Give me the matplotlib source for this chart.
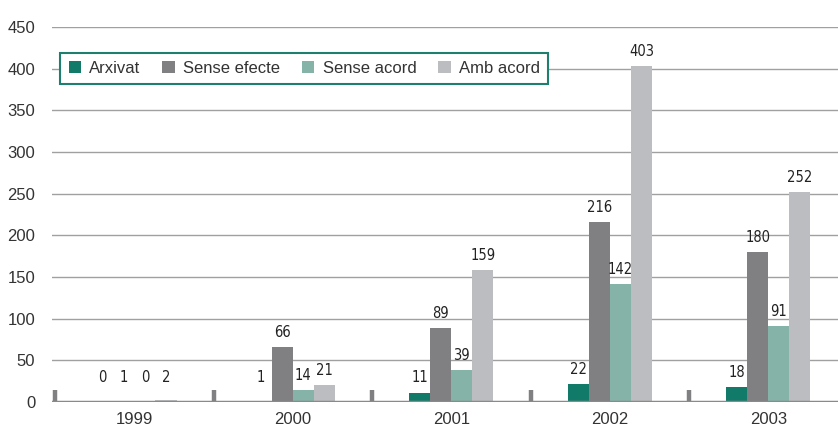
import matplotlib
matplotlib.use("Agg")
import matplotlib.pyplot as plt
from matplotlib import font_manager
import numpy as np

years = ["1999", "2000", "2001", "2002", "2003"]
seriesNames = ["Arxivat", "Sense efecte", "Sense acord", "Amb acord"]
arxivat = [0, 1, 11, 22, 18]
senseEfecte = [1, 66, 89, 216, 180]
senseAcord = [0, 14, 39, 142, 91]
ambAcord = [2, 21, 159, 403, 252]
yTicks = [0, 50, 100, 150, 200, 250, 300, 350, 400, 450]

colours = ["#127a68", "#808083", "#86b3a8", "#bcbdc0"]

# condensed face for the value labels
labelProps = font_manager.FontProperties(family="DejaVu Sans", stretch="condensed", size=10.5)

plt.rcParams["font.family"] = ["Liberation Sans", "DejaVu Sans"]

fig = plt.figure(figsize=(8.38, 4.30), dpi=100)
ax = fig.add_axes([0.062, 0.065, 0.938, 0.872])

x = np.arange(len(years))
barWidth = 0.133
allSeries = [arxivat, senseEfecte, senseAcord, ambAcord]

for i, (name, values) in enumerate(zip(seriesNames, allSeries)):
    offs = (i - 1.5) * barWidth
    ax.bar(x + offs, values, width=barWidth, color=colours[i], label=name, zorder=3)
    for xi, v in zip(x, values):
        ax.annotate(str(v), (xi + offs, max(v, 12)), xytext=(0, 5),
                    textcoords="offset points", ha="center", va="bottom",
                    fontproperties=labelProps, color="#222222", zorder=4)

ax.set_xlim(-0.52, 4.44)
ax.set_ylim(0, 450)
ax.set_yticks(yTicks)
ax.yaxis.grid(True, color="#a0a0a0", linewidth=1, zorder=0)
ax.axhline(0, color="#8a8a8c", linewidth=2.5, zorder=5)

ax.set_xticks(x)
ax.set_xticklabels(years)
ax.set_xticks(np.arange(-0.5, 4.0, 1.0), minor=True)
ax.tick_params(axis="x", which="major", length=0, pad=7, labelsize=12, colors="#333333")
ax.tick_params(axis="x", which="minor", direction="in", length=8.6, width=3.2,
               color="#808083")
ax.tick_params(axis="y", length=0, pad=12, labelsize=12, colors="#333333")

for spine in ax.spines.values():
    spine.set_visible(False)

leg = ax.legend(loc="center left", bbox_to_anchor=(0.0, 0.89), ncol=4,
                frameon=True, fancybox=False, framealpha=1, edgecolor="#1f7f6e",
                fontsize=12, handlelength=0.75, handleheight=0.75,
                columnspacing=1.3, handletextpad=0.5, borderpad=0.5)
leg.get_frame().set_linewidth(1.5)
leg.set_zorder(6)
for t in leg.get_texts():
    t.set_color("#333333")

fig.savefig("out.png", dpi=100)
